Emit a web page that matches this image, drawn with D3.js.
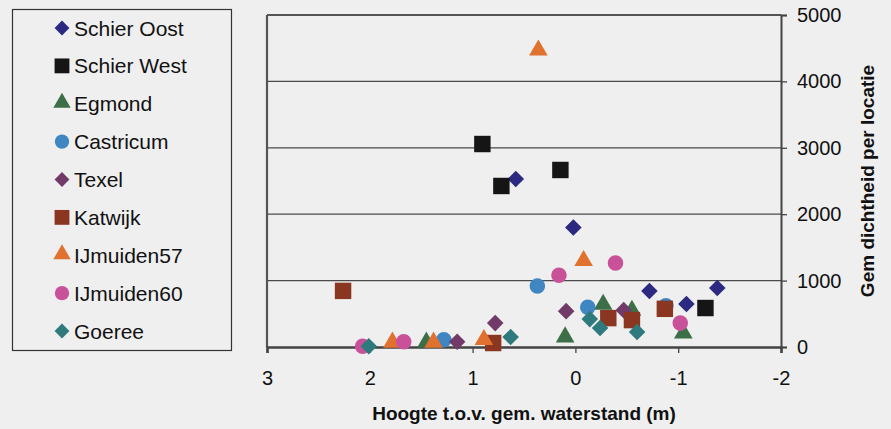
<!DOCTYPE html>
<html>
<head>
<meta charset="utf-8">
<script src="https://cdn.jsdelivr.net/npm/d3@7"></script>
<style>
  html, body { margin: 0; padding: 0; background: #efefef; }
  svg { display: block; }
  text { font-family: "Liberation Sans", Arial, sans-serif; fill: #111; }
</style>
</head>
<body>
<script>
// ---- DATA ----
const seriesNames = ["Schier Oost", "Schier West", "Egmond", "Castricum", "Texel", "Katwijk", "IJmuiden57", "IJmuiden60", "Goeree"];
const seriesShapes = ["diamond", "square", "triangle", "circle", "diamond", "square", "triangle", "circle", "diamond"];
const seriesColors = ["#2c2a80", "#151515", "#3c6f47", "#3f86c2", "#713a69", "#8a3621", "#e0712f", "#c8519a", "#2e7a7d"];

const hSchierOost = [0.58, 0.02, -0.72, -1.08, -1.38];
const dSchierOost = [2530, 1800, 843, 648, 889];

const hSchierWest = [0.905, 0.72, 0.146, -1.265];
const dSchierWest = [3057, 2425, 2666, 587];

const hEgmond = [1.45, 0.10, -0.27, -0.55, -1.05];
const dEgmond = [40, 120, 610, 520, 180];

const hCastricum = [1.28, 0.37, -0.12, -0.88];
const dCastricum = [110, 920, 600, 620];

const hTexel = [1.15, 0.78, 0.09, -0.47];
const dTexel = [80, 360, 540, 555];

const hKatwijk = [2.26, 0.80, -0.32, -0.55, -0.87];
const dKatwijk = [845, 60, 435, 405, 575];

const hIJmuiden57 = [0.36, -0.08, 1.78, 1.38, 0.89];
const dIJmuiden57 = [4440, 1270, 40, 40, 80];

const hIJmuiden60 = [2.07, 1.67, 0.16, -0.39, -1.02];
const dIJmuiden60 = [10, 80, 1080, 1265, 360];

const hGoeree = [2.01, 0.63, -0.14, -0.24, -0.60];
const dGoeree = [10, 150, 420, 285, 225];

const hValues = [hSchierOost, hSchierWest, hEgmond, hCastricum, hTexel, hKatwijk, hIJmuiden57, hIJmuiden60, hGoeree];
const dValues = [dSchierOost, dSchierWest, dEgmond, dCastricum, dTexel, dKatwijk, dIJmuiden57, dIJmuiden60, dGoeree];

const xTicks = [3, 2, 1, 0, -1, -2];
const yTicks = [0, 1000, 2000, 3000, 4000, 5000];
const xTitle = "Hoogte t.o.v. gem. waterstand (m)";
const yTitle = "Gem dichtheid per locatie";

// ---- CHART ----
const W = 891, H = 429;
const plot = { left: 267, right: 781, top: 15, bottom: 347 };

const svg = d3.select("body").append("svg").attr("width", W).attr("height", H);
svg.append("rect").attr("width", W).attr("height", H).attr("fill", "#efefef");

const x = d3.scaleLinear().domain([3, -2]).range([plot.left, plot.right]);
const y = d3.scaleLinear().domain([0, 5000]).range([plot.bottom, plot.top]);

// gridlines
svg.append("g").selectAll("line").data(yTicks.filter(t => t > 0 && t < 5000)).join("line")
  .attr("x1", plot.left).attr("x2", plot.right)
  .attr("y1", d => y(d)).attr("y2", d => y(d))
  .attr("stroke", "#4a4a4a").attr("stroke-width", 1.3);

// plot frame: top + left
svg.append("line").attr("x1", plot.left).attr("x2", plot.right).attr("y1", plot.top).attr("y2", plot.top)
  .attr("stroke", "#555").attr("stroke-width", 2.2);
svg.append("line").attr("x1", plot.left).attr("x2", plot.left).attr("y1", plot.top).attr("y2", plot.bottom)
  .attr("stroke", "#555").attr("stroke-width", 2.2);

const plainFormat = d => String(d);

// right y axis
const yAxis = d3.axisRight(y).tickValues(yTicks).tickSize(6).tickPadding(10).tickFormat(plainFormat);
const gy = svg.append("g").attr("transform", `translate(${plot.right},0)`).call(yAxis);
gy.select(".domain").attr("stroke", "#444").attr("stroke-width", 2);
gy.selectAll(".tick line").attr("stroke", "#444").attr("stroke-width", 1.3);
gy.selectAll(".tick text").attr("font-size", 20).attr("fill", "#111")
  .attr("font-family", "Liberation Sans, Arial, sans-serif");

// bottom x axis
const xAxis = d3.axisBottom(x).tickValues(xTicks).tickSize(6).tickPadding(18).tickFormat(plainFormat);
const gx = svg.append("g").attr("transform", `translate(0,${plot.bottom})`).call(xAxis);
gx.select(".domain").attr("stroke", "#444").attr("stroke-width", 2.6);
gx.selectAll(".tick line").attr("stroke", "#444").attr("stroke-width", 1.3);
gx.selectAll(".tick text").attr("font-size", 20).attr("fill", "#111")
  .attr("font-family", "Liberation Sans, Arial, sans-serif");

// titles
svg.append("text").attr("x", 524).attr("y", 420).attr("text-anchor", "middle")
  .attr("font-size", 19).attr("font-weight", "bold").text(xTitle);
svg.append("text").attr("transform", `translate(874,${181}) rotate(-90)`).attr("text-anchor", "middle")
  .attr("font-size", 19).attr("font-weight", "bold").text(yTitle);

// symbols
function symbolFor(shape, size) {
  const types = {
    diamond: d3.symbolDiamond2 || d3.symbolDiamond,
    square: d3.symbolSquare,
    triangle: d3.symbolTriangle,
    circle: d3.symbolCircle
  };
  return d3.symbol().type(types[shape]).size(size)();
}
const markerSize = { diamond: 175, square: 270, triangle: 150, circle: 190 };

seriesNames.forEach((name, i) => {
  const pts = hValues[i].map((h, j) => [h, dValues[i][j]]);
  const shape = seriesShapes[i];
  svg.append("g").selectAll("path").data(pts).join("path")
    .attr("transform", d => {
      let ty = y(d[1]);
      if (shape === "triangle") ty -= 2;
      return `translate(${x(d[0])},${ty})`;
    })
    .attr("d", symbolFor(shape, markerSize[shape]))
    .attr("fill", seriesColors[i]);
});

// legend
const lg = svg.append("g");
lg.append("rect").attr("x", 12.5).attr("y", 9.5).attr("width", 219).attr("height", 341)
  .attr("fill", "none").attr("stroke", "#333").attr("stroke-width", 1.2);
const legendY = d3.scalePoint().domain(seriesNames).range([28, 331]);
seriesNames.forEach((name, i) => {
  const cy = legendY(name);
  const shape = seriesShapes[i];
  const lsize = { diamond: 140, square: 220, triangle: 130, circle: 160 }[shape];
  lg.append("path").attr("transform", `translate(62,${shape === "triangle" ? cy - 1 : cy})`)
    .attr("d", symbolFor(shape, lsize)).attr("fill", seriesColors[i]);
  lg.append("text").attr("x", 74).attr("y", cy).attr("dy", "0.36em")
    .attr("font-size", 21).text(name);
});
</script>
</body>
</html>
